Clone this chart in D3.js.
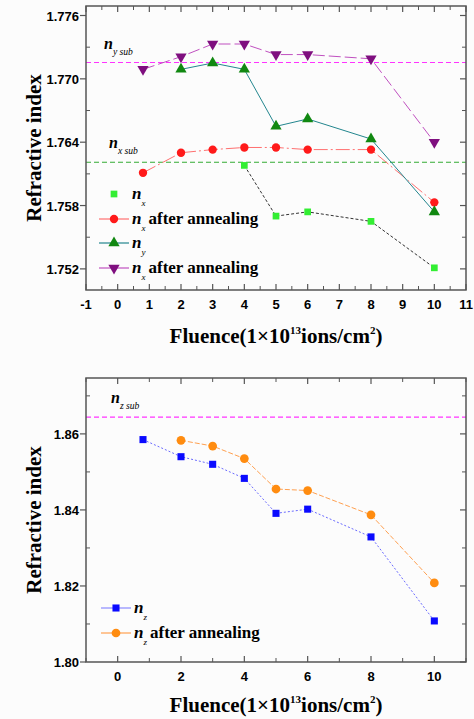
<!DOCTYPE html>
<html>
<head>
<meta charset="utf-8">
<script src="https://cdn.jsdelivr.net/npm/d3@7"></script>
<style>
body { margin: 0; background: #fcfcfc; }
svg { display: block; }
</style>
</head>
<body>
<svg></svg>
<script>
// top chart data
var fluence = [0.8, 2, 3, 4, 5, 6, 8, 10];
var nxX = [4, 5, 6, 8, 10];
var nx = [1.7618, 1.7570, 1.7574, 1.7565, 1.7521];
var nxAnneal = [1.7611, 1.7630, 1.7633, 1.7635, 1.7635, 1.7633, 1.7633, 1.7583];
var nyX = [2, 3, 4, 5, 6, 8, 10];
var ny = [1.7709, 1.7715, 1.7709, 1.7655, 1.7662, 1.7643, 1.7574];
var nyAnneal = [1.7709, 1.7721, 1.7733, 1.7733, 1.7723, 1.7723, 1.7719, 1.7640];
var nxSub = 1.7621, nySub = 1.77155;
var topYTicks = [1.752, 1.758, 1.764, 1.770, 1.776];
var topXTicks = [-1, 0, 1, 2, 3, 4, 5, 6, 7, 8, 9, 10, 11];

// bottom chart data
var nz = [1.8585, 1.8540, 1.8520, 1.8483, 1.8391, 1.8402, 1.8329, 1.8108];
var nzAnnealX = [2, 3, 4, 5, 6, 8, 10];
var nzAnneal = [1.8583, 1.8568, 1.8535, 1.8455, 1.8451, 1.8387, 1.8208];
var nzSub = 1.8644;
var botYTicks = [1.80, 1.82, 1.84, 1.86];
var botXTicks = [0, 2, 4, 6, 8, 10];

var svg = d3.select("svg").attr("width", 474).attr("height", 719);

var serif = "'Liberation Serif', 'Times New Roman', serif";
var sans = "'Liberation Sans', Arial, sans-serif";

function pairs(xs, ys) {
    return xs.map(function(x, i){ return {x: x, y: ys[i]}; });
}

function drawFrame(g, x, y, yTicks, yMinor, xTicks, xMinor, yFmt) {
    var x0 = x.range()[0], x1 = x.range()[1];
    var y0 = y.range()[0], y1 = y.range()[1];
    var col = "#555";
    // left axis, outward major ticks
    g.selectAll(".yl").data(yTicks).enter().append("line")
        .attr("x1", x0 - 6).attr("x2", x0)
        .attr("y1", function(d){ return y(d); }).attr("y2", function(d){ return y(d); })
        .attr("stroke", col).attr("stroke-width", 1.2);
    g.selectAll(".ylm").data(yMinor).enter().append("line")
        .attr("x1", x0).attr("x2", x0 + 4)
        .attr("y1", function(d){ return y(d); }).attr("y2", function(d){ return y(d); })
        .attr("stroke", col);
    // right axis, inward
    g.selectAll(".yr").data(yTicks).enter().append("line")
        .attr("x1", x1 - 6).attr("x2", x1)
        .attr("y1", function(d){ return y(d); }).attr("y2", function(d){ return y(d); })
        .attr("stroke", col).attr("stroke-width", 1.2);
    g.selectAll(".yrm").data(yMinor).enter().append("line")
        .attr("x1", x1 - 4).attr("x2", x1)
        .attr("y1", function(d){ return y(d); }).attr("y2", function(d){ return y(d); })
        .attr("stroke", col);
    // top and bottom, inward
    [y0, y1].forEach(function(yy, k){
        var dir = k == 0 ? -1 : 1;
        g.selectAll(".xt" + k).data(xTicks).enter().append("line")
            .attr("x1", function(d){ return x(d); }).attr("x2", function(d){ return x(d); })
            .attr("y1", yy).attr("y2", yy + dir * 6)
            .attr("stroke", col).attr("stroke-width", 1.2);
        g.selectAll(".xm" + k).data(xMinor).enter().append("line")
            .attr("x1", function(d){ return x(d); }).attr("x2", function(d){ return x(d); })
            .attr("y1", yy).attr("y2", yy + dir * 4)
            .attr("stroke", col);
    });
    g.append("rect")
        .attr("x", x0).attr("y", y1)
        .attr("width", x1 - x0).attr("height", y0 - y1)
        .attr("fill", "none").attr("stroke", col).attr("stroke-width", 1.5);
    // tick labels
    g.selectAll(".ylab").data(yTicks).enter().append("text")
        .attr("x", x0 - 7).attr("y", function(d){ return y(d) + 5; })
        .attr("text-anchor", "end")
        .style("font", "bold 13px " + sans)
        .text(yFmt);
    g.selectAll(".xlab").data(xTicks).enter().append("text")
        .attr("x", function(d){ return x(d); }).attr("y", y0 + 19)
        .attr("text-anchor", "middle")
        .style("font", "bold 13px " + sans)
        .text(function(d){ return d; });
}

function axisTitles(g, x, y, titleY) {
    var y0 = y.range()[0], y1 = y.range()[1];
    g.append("text")
        .attr("transform", "translate(41," + ((y0 + y1) / 2) + ") rotate(-90)")
        .attr("text-anchor", "middle")
        .style("font", "bold 21px " + serif)
        .text("Refractive index");
    var t = g.append("text")
        .attr("x", 276).attr("y", titleY)
        .attr("text-anchor", "middle")
        .style("font", "bold 21px " + serif);
    t.append("tspan").text("Fluence(1×10");
    t.append("tspan").attr("dy", -9).style("font-size", "11px").text("13");
    t.append("tspan").attr("dy", 9).text("ions/cm");
    t.append("tspan").attr("dy", -9).style("font-size", "11px").text("2");
    t.append("tspan").attr("dy", 9).text(")");
}

function nLabel(g, xx, yy, letter, rest, size) {
    var t = g.append("text").attr("x", xx).attr("y", yy)
        .style("font", "bold italic " + size + "px " + serif);
    t.append("tspan").text(letter);
    if (rest) {
        t.append("tspan").attr("dy", 6)
            .style("font", "italic " + (size * 0.6) + "px " + serif)
            .text(rest);
    }
    return t;
}

function marker(g, shape, cx, cy, color, size) {
    var sym = d3.symbol().size(size);
    if (shape == "square") sym.type(d3.symbolSquare);
    else if (shape == "circle") sym.type(d3.symbolCircle);
    else sym.type(d3.symbolTriangle);
    var p = g.append("path").attr("d", sym())
        .attr("fill", color)
        .attr("transform", "translate(" + cx + "," + cy + ")" + (shape == "down" ? " rotate(180)" : ""));
    return p;
}

function series(g, x, y, data, shape, mcolor, lcolor, dash, msize) {
    var line = d3.line().x(function(d){ return x(d.x); }).y(function(d){ return y(d.y); });
    g.append("path").datum(data).attr("d", line)
        .attr("fill", "none").attr("stroke", lcolor).attr("stroke-width", 1)
        .attr("stroke-dasharray", dash);
    data.forEach(function(d){
        marker(g, shape, x(d.x), y(d.y), mcolor, msize);
    });
}

function legendRow(g, lx, ly, shape, mcolor, lcolor, hasLine, sub, rest, msize) {
    if (hasLine) {
        g.append("line").attr("x1", lx - 15).attr("x2", lx + 15)
            .attr("y1", ly).attr("y2", ly)
            .attr("stroke", lcolor).attr("stroke-width", 1.2);
    }
    marker(g, shape, lx, ly, mcolor, msize);
    var t = g.append("text").attr("x", lx + 18).attr("y", ly + 5)
        .style("font", "bold italic 17px " + serif);
    t.append("tspan").text("n");
    t.append("tspan").attr("dy", 7).style("font", "italic 9px " + serif).text(sub);
    if (rest) t.append("tspan").attr("dy", -7).attr("dx", 3)
        .style("font", "bold 17px " + serif).text(rest);
}

// ---------- top chart ----------
var gTop = svg.append("g");
var xTop = d3.scaleLinear().domain([-1, 11]).range([86, 466]);
var yTop = d3.scaleLinear().domain([1.750, 1.7769]).range([290, 6]);

gTop.append("line")
    .attr("x1", 86).attr("x2", 466)
    .attr("y1", yTop(nySub)).attr("y2", yTop(nySub))
    .attr("stroke", "#ff33ff").attr("stroke-width", 1.2).attr("stroke-dasharray", "5,3");
gTop.append("line")
    .attr("x1", 86).attr("x2", 466)
    .attr("y1", yTop(nxSub)).attr("y2", yTop(nxSub))
    .attr("stroke", "#33aa33").attr("stroke-width", 1.2).attr("stroke-dasharray", "5,3");

drawFrame(gTop, xTop, yTop, topYTicks,
    [1.755, 1.761, 1.767, 1.773],
    topXTicks, d3.range(-0.5, 11, 1), d3.format(".3f"));

series(gTop, xTop, yTop, pairs(nxX, nx), "square", "#33ee33", "#333", "3,2", 45);
series(gTop, xTop, yTop, pairs(fluence, nxAnneal), "circle", "#ff1a1a", "#ff7070", "14,3,2,3", 55);
series(gTop, xTop, yTop, pairs(nyX, ny), "up", "#118811", "#23868e", null, 55);
series(gTop, xTop, yTop, pairs(fluence, nyAnneal), "down", "#7f0f7f", "#c050c0", "12,4", 55);

nLabel(gTop, 104, 49, "n", "y sub", 16);
nLabel(gTop, 109, 148, "n", "x sub", 16);

legendRow(gTop, 114, 194, "square", "#33ee33", "#333", false, "x", null, 45);
legendRow(gTop, 114, 219, "circle", "#ff1a1a", "#ff7070", true, "x", "after annealing", 55);
legendRow(gTop, 114, 243, "up", "#118811", "#23868e", true, "y", null, 55);
legendRow(gTop, 114, 268, "down", "#7f0f7f", "#c050c0", true, "x", "after annealing", 55);

axisTitles(gTop, xTop, yTop, 343);

// ---------- bottom chart ----------
var gBot = svg.append("g");
var xBot = d3.scaleLinear().domain([-1, 11]).range([86, 466]);
var yBot = d3.scaleLinear().domain([1.80, 1.8747]).range([662, 378]);

gBot.append("line")
    .attr("x1", 86).attr("x2", 466)
    .attr("y1", yBot(nzSub)).attr("y2", yBot(nzSub))
    .attr("stroke", "#ff33ff").attr("stroke-width", 1.2).attr("stroke-dasharray", "5,3");

drawFrame(gBot, xBot, yBot, botYTicks, [1.81, 1.83, 1.85, 1.87],
    botXTicks, [-1, 1, 3, 5, 7, 9, 11], d3.format(".2f"));

series(gBot, xBot, yBot, pairs(fluence, nz), "square", "#0a0aff", "#6a6aff", "2,2", 50);
series(gBot, xBot, yBot, pairs(nzAnnealX, nzAnneal), "circle", "#ff8c10", "#ffa050", "5,2", 60);

nLabel(gBot, 111, 403, "n", "z sub", 16);

legendRow(gBot, 116, 608, "square", "#0a0aff", "#8a8aff", true, "z", null, 50);
legendRow(gBot, 116, 633, "circle", "#ff8c10", "#ffa050", true, "z", "after annealing", 60);

axisTitles(gBot, xBot, yBot, 712);
</script>
</body>
</html>
